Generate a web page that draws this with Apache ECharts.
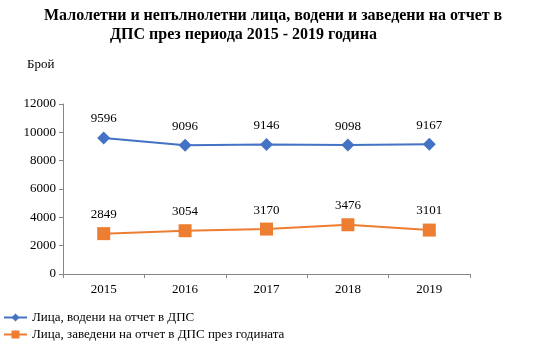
<!DOCTYPE html>
<html><head><meta charset="utf-8">
<script src="https://cdn.jsdelivr.net/npm/echarts@6/dist/echarts.min.js"></script>
<style>html,body{margin:0;padding:0;background:#fff}#c{width:545px;height:356px}</style>
</head><body><div id="c"></div>
<script>
var categories = ['2015','2016','2017','2018','2019'];
var seriesNames = ['Лица, водени на отчет в ДПС','Лица, заведени на отчет в ДПС през годината'];
var led = [9596, 9096, 9146, 9098, 9167];
var registered = [2849, 3054, 3170, 3476, 3101];
var yTicks = {min: 0, max: 12000, interval: 2000};
var titleLine1 = 'Малолетни и непълнолетни лица, водени и заведени на отчет в';
var titleLine2 = 'ДПС през периода 2015 - 2019 година';
var yName = 'Брой';

var font = 'Liberation Serif, Times New Roman, serif';
var chart = echarts.init(document.getElementById('c'), null, {renderer: 'canvas'});
chart.setOption({
  animation: false,
  textStyle: {fontFamily: font},
  title: [
    {text: titleLine1, left: 39, top: 3, textStyle: {fontFamily: font, fontSize: 16, fontWeight: 'bold', color: '#000'}},
    {text: titleLine2, left: 105, top: 22, textStyle: {fontFamily: font, fontSize: 16, fontWeight: 'bold', color: '#000'}},
    {text: yName, left: 22, top: 53, textStyle: {fontFamily: font, fontSize: 13, fontWeight: 'normal', color: '#000'}}
  ],
  grid: {left: 63, right: 75, top: 104, bottom: 82, containLabel: false},
  legend: {
    orient: 'vertical', left: 3, top: 311, padding: 0, itemGap: 4, itemWidth: 23, itemHeight: 10,
    textStyle: {fontFamily: font, fontSize: 13, color: '#000'},
    data: seriesNames
  },
  xAxis: {
    type: 'category', data: categories, boundaryGap: true,
    axisLine: {lineStyle: {color: '#868686', width: 1}},
    axisTick: {show: true, alignWithLabel: false, length: 4, lineStyle: {color: '#868686'}},
    axisLabel: {fontFamily: font, fontSize: 13, color: '#000', margin: 9}
  },
  yAxis: {
    type: 'value', min: yTicks.min, max: yTicks.max, interval: yTicks.interval,
    axisLine: {show: true, lineStyle: {color: '#868686', width: 1}},
    axisTick: {show: true, length: 4, lineStyle: {color: '#868686'}},
    splitLine: {show: false},
    axisLabel: {fontFamily: font, fontSize: 13, color: '#000', margin: 7, formatter: function (v) { return String(v); }}
  },
  series: [
    {
      name: seriesNames[0], type: 'line', data: led,
      symbol: 'diamond', symbolSize: 13,
      itemStyle: {color: '#4472C4'}, lineStyle: {color: '#4472C4', width: 2},
      label: {show: true, position: 'top', distance: 6, fontFamily: font, fontSize: 13, color: '#000'}
    },
    {
      name: seriesNames[1], type: 'line', data: registered,
      symbol: 'rect', symbolSize: 13,
      itemStyle: {color: '#ED7D31'}, lineStyle: {color: '#ED7D31', width: 2},
      label: {show: true, position: 'top', distance: 6, fontFamily: font, fontSize: 13, color: '#000'}
    }
  ]
});
</script></body></html>
